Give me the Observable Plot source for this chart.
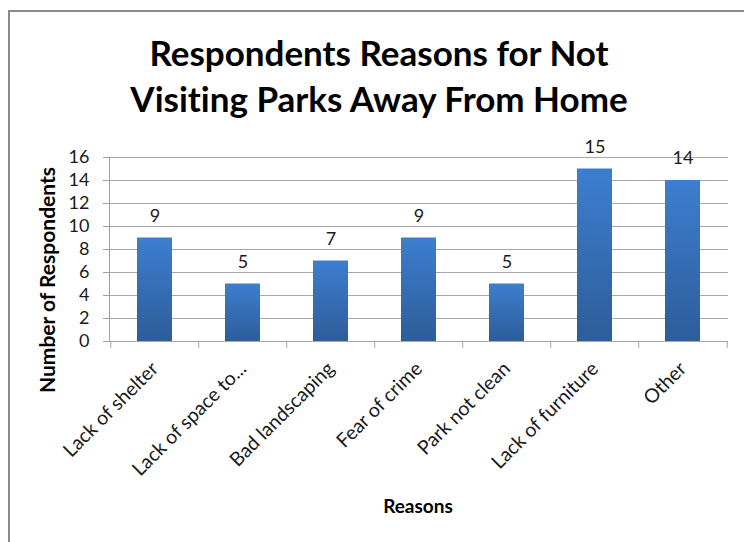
<!DOCTYPE html>
<html>
<head>
<meta charset="utf-8">
<script src="https://cdn.jsdelivr.net/npm/d3@7"></script>
<script src="https://cdn.jsdelivr.net/npm/@observablehq/plot@0.6"></script>
<style>
  html, body { margin: 0; padding: 0; background: #fff; }
  #chart { width: 744px; height: 542px; }
  svg { display: block; font-variant-ligatures: none; }
</style>
</head>
<body>
<div id="chart"></div>
<script>
const categories = ["Lack of shelter", "Lack of space to...", "Bad landscaping", "Fear of crime", "Park not clean", "Lack of furniture", "Other"];
const respondents = [9, 5, 7, 9, 5, 15, 14];
const yTicks = [0, 2, 4, 6, 8, 10, 12, 14, 16];
const titleLines = ["Respondents Reasons for Not", "Visiting Parks Away From Home"];
const yLabel = "Number of Respondents";
const xLabel = "Reasons";

const data = categories.map((c, i) => ({reason: c, value: respondents[i]}));

const W = 744, H = 542;
const mL = 109, mR = 16, mT = 157, mB = 201;
const step = (W - mL - mR) / categories.length;
const font = "Lato, 'Open Sans', sans-serif";

const chart = Plot.plot({
  width: W,
  height: H,
  marginLeft: mL,
  marginRight: mR,
  marginTop: mT,
  marginBottom: mB,
  style: {fontFamily: font, background: "#fff", overflow: "visible"},
  x: {domain: categories, paddingInner: 0.6, paddingOuter: 0.3, axis: null},
  y: {domain: [0, 16], axis: null},
  marks: [
    Plot.ruleY(yTicks, {stroke: "#a8a8a8", strokeWidth: 1}),
    Plot.frame({anchor: "left", stroke: "#a0a0a0"}),
    Plot.barY(data, {x: "reason", y: "value", fill: "url(#barGrad)"}),
    Plot.ruleX(categories, {x: d => d, y1: 0, y2: -0.6, dx: -step / 2, stroke: "#a0a0a0", strokeWidth: 1}),
    Plot.ruleX(categories.slice(-1), {x: d => d, y1: 0, y2: -0.6, dx: step / 2, stroke: "#a0a0a0", strokeWidth: 1}),
    Plot.text(data, {x: "reason", y: "value", text: d => String(d.value), dy: -22, lineAnchor: "middle", fontSize: 18, fill: "#1a1a1a"}),
    Plot.text(categories, {x: d => d, frameAnchor: "bottom", text: d => d, rotate: -45, textAnchor: "end", lineAnchor: "middle", dx: 0, dy: 24, fontSize: 19.5, fill: "#1a1a1a"}),
    Plot.axisY({ticks: yTicks, tickSize: 6, tickPadding: 14, fontSize: 18, stroke: "#a0a0a0", color: "#1a1a1a", label: null, tickFormat: d => String(d)})
  ]
});

document.getElementById("chart").appendChild(chart);

const svg = d3.select(chart);

// gradient
const defs = svg.insert("defs", ":first-child");
const g = defs.append("linearGradient").attr("id", "barGrad").attr("x1", 0).attr("y1", 0).attr("x2", 0).attr("y2", 1);
g.append("stop").attr("offset", "0%").attr("stop-color", "#3d7ecf");
g.append("stop").attr("offset", "100%").attr("stop-color", "#2d5d99");

// chart area border (top and left visible)
svg.append("path")
  .attr("d", `M9,${H} L9,11 L${W},11`)
  .attr("fill", "none")
  .attr("stroke", "#8a8a8a")
  .attr("stroke-width", 2);

// title
const t = svg.append("text")
  .attr("text-anchor", "middle")
  .attr("font-family", font)
  .attr("font-weight", "bold")
  .attr("font-size", 35)
  .attr("fill", "#000");
t.append("tspan").attr("x", 379).attr("y", 66).text(titleLines[0]);
t.append("tspan").attr("x", 379).attr("y", 112).text(titleLines[1]);

// y axis title
svg.append("text")
  .attr("transform", "translate(50,280) rotate(-90)")
  .attr("text-anchor", "middle")
  .attr("dominant-baseline", "middle")
  .attr("font-family", font)
  .attr("font-weight", "bold")
  .attr("font-size", 21)
  .attr("fill", "#000")
  .text(yLabel);

// x axis title
svg.append("text")
  .attr("x", 418)
  .attr("y", 513)
  .attr("text-anchor", "middle")
  .attr("font-family", font)
  .attr("font-weight", "bold")
  .attr("font-size", 19)
  .attr("fill", "#000")
  .text(xLabel);
</script>
</body>
</html>
